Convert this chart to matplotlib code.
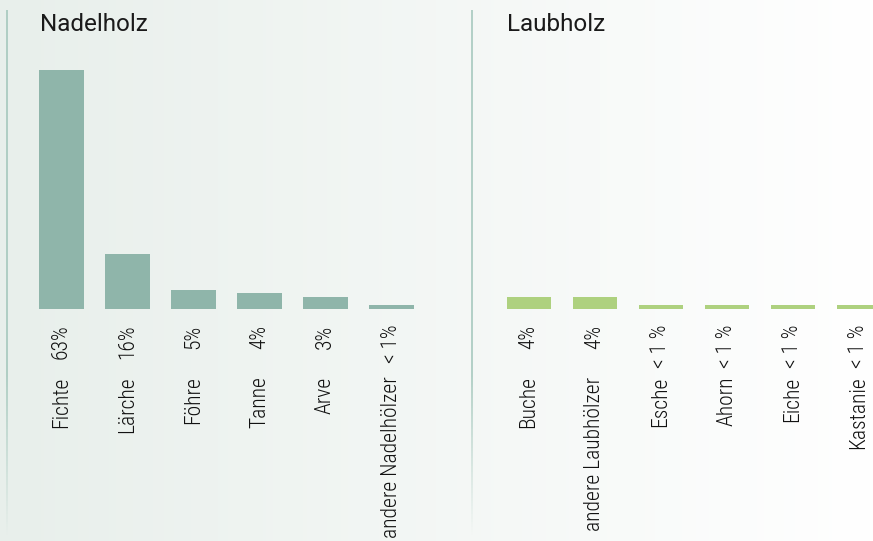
import matplotlib.pyplot as plt
import numpy as np
from matplotlib.collections import LineCollection
from matplotlib.colors import LinearSegmentedColormap

# Daten
nadel_namen = ['Fichte', 'Lärche', 'Föhre', 'Tanne', 'Arve', 'andere Nadelhölzer']
nadel_prozent = ['63%', '16%', '5%', '4%', '3%', '< 1%']
nadel_werte = [63, 14.5, 5, 4, 3, 1]

laub_namen = ['Buche', 'andere Laubhölzer', 'Esche', 'Ahorn', 'Eiche', 'Kastanie']
laub_prozent = ['4%', '4%', '< 1 %', '< 1 %', '< 1 %', '< 1 %']
laub_werte = [3, 3, 1, 1, 1, 1]

W, H = 873, 541
schmal = ['Roboto Condensed', 'Liberation Sans Narrow', 'DejaVu Sans Condensed', 'DejaVu Sans']

fig = plt.figure(figsize=(W / 100, H / 100), dpi=100)

# Hintergrund mit Verlauf
bg = fig.add_axes([0, 0, 1, 1])
cmap = LinearSegmentedColormap.from_list('bg', ['#e8efeb', '#ffffff'])
bg.imshow(np.linspace(0, 1, 256).reshape(1, -1), cmap=cmap, aspect='auto',
          extent=[0, W, H, 0])
bg.set_xlim(0, W)
bg.set_ylim(H, 0)
bg.axis('off')

# senkrechte Linien, unten ausgeblendet
for lx in [7, 472]:
    ys = np.linspace(10, 535, 200)
    segs = [[(lx, ys[k]), (lx, ys[k + 1])] for k in range(len(ys) - 1)]
    mid = (ys[:-1] + ys[1:]) / 2
    alpha = np.clip((535 - mid) / 160, 0, 1) * 0.9
    cols = [(0.62, 0.77, 0.72, a) for a in alpha]
    bg.add_collection(LineCollection(segs, colors=cols, linewidths=1.2))

px_pro_prozent = 3.79
basis = 308.5


def panel(left_px, namen, prozent, werte, farbe, titel, titel_x):
    ax = fig.add_axes([left_px / W, (H - basis) / H, 396 / W, 70 * px_pro_prozent / H])
    ax.patch.set_alpha(0)
    x = np.arange(len(werte))
    ax.bar(x, werte, width=0.68, color=farbe)
    ax.set_xlim(-0.5, 5.5)
    ax.set_ylim(0, 70)
    ax.axis('off')
    for i in x:
        ax.annotate(prozent[i], xy=(i, 0), xytext=(0, -16), textcoords='offset pixels',
                    rotation=90, ha='center', va='top', fontsize=15.5, fontweight='light',
                    family=schmal, color='#111111', annotation_clip=False)
        ax.annotate(namen[i], xy=(i, 0), xytext=(0, -68), textcoords='offset pixels',
                    rotation=90, ha='center', va='top', fontsize=15.5, fontweight='light',
                    family=schmal, color='#111111', annotation_clip=False)
    fig.text(titel_x / W, 1 - 31 / H, titel, fontsize=17.5,
             family=['Roboto', 'DejaVu Sans'], color='#1a1a1a', va='baseline', ha='left')


panel(28.5, nadel_namen, nadel_prozent, nadel_werte, '#8fb5aa', 'Nadelholz', 40)
panel(496, laub_namen, laub_prozent, laub_werte, '#aed17f', 'Laubholz', 507)

fig.savefig('out.png', dpi=100)
